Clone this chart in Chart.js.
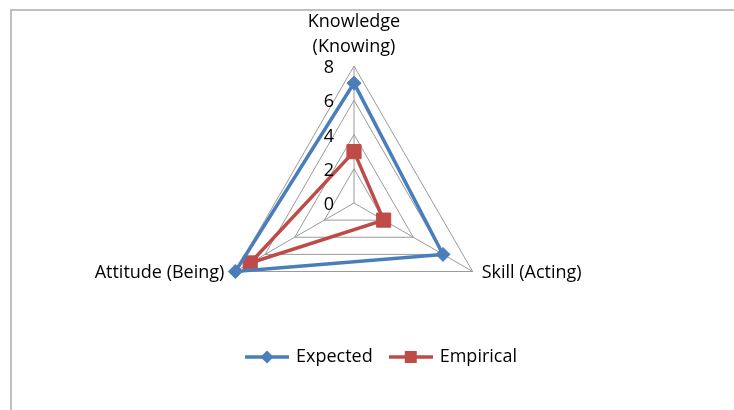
<!DOCTYPE html>
<html>
<head>
<meta charset="utf-8">
<title>Expected vs Empirical</title>
<script src="https://cdn.jsdelivr.net/npm/chart.js@4.4.1/dist/chart.umd.min.js"></script>
<style>
	html, body { margin: 0; padding: 0; background: #fff; }
	#wrap { position: relative; width: 734px; height: 410px; overflow: hidden; }
	#frame {
		position: absolute; left: 10px; top: 9px; right: 0; bottom: 0;
		border-top: 2px solid #c0c0c0; border-left: 2px solid #c0c0c0;
		pointer-events: none;
	}
</style>
</head>
<body>
<div id="wrap">
	<canvas id="radar" width="734" height="410"></canvas>
	<div id="frame"></div>
</div>
<script>
// --- data ---
const axisLabels = [['Knowledge', '(Knowing)'], 'Skill (Acting)', 'Attitude (Being)'];
const expected = [7, 6, 8];
const empirical = [3, 2, 7];
const tickValues = [0, 2, 4, 6, 8];

const BLUE = '#4a7ebb';
const RED = '#be4b48';
const FONT = '"Open Sans", "Noto Sans", sans-serif';

// small line + marker images for the legend
function legendMarker(color, shape) {
	const c = document.createElement('canvas');
	c.width = 44;
	c.height = 16;
	const g = c.getContext('2d');
	g.strokeStyle = color;
	g.lineWidth = 3.5;
	g.beginPath();
	g.moveTo(0, 8);
	g.lineTo(44, 8);
	g.stroke();
	g.fillStyle = color;
	g.beginPath();
	if (shape === 'diamond') {
		g.moveTo(22, 1.5); g.lineTo(28.5, 8); g.lineTo(22, 14.5); g.lineTo(15.5, 8);
		g.closePath();
	} else {
		g.rect(16, 2, 12, 12);
	}
	g.fill();
	return c;
}
const markers = [legendMarker(BLUE, 'diamond'), legendMarker(RED, 'square')];

// tick numbers sit left of the vertical axis, axis titles outside the vertices
const axisText = {
	id: 'axisText',
	afterDraw(chart) {
		const s = chart.scales.r;
		const ctx = chart.ctx;
		ctx.save();
		ctx.font = '18px ' + FONT;
		ctx.fillStyle = '#000';
		ctx.textAlign = 'right';
		ctx.textBaseline = 'middle';
		tickValues.forEach(v => {
			const p = s.getPointPositionForValue(0, v);
			ctx.fillText(String(v), p.x - 20, p.y + 2);
		});
		axisLabels.forEach((lbl, i) => {
			const p = s.getPointPosition(i, s.drawingArea);
			const lines = Array.isArray(lbl) ? lbl : [lbl];
			if (i === 0) {
				ctx.textAlign = 'center';
				lines.forEach((t, k) => {
					ctx.fillText(t, p.x, p.y - 19 - (lines.length - 1 - k) * 25);
				});
			} else {
				ctx.textAlign = i === 1 ? 'left' : 'right';
				ctx.fillText(lines[0], p.x + (i === 1 ? 9 : -11), p.y + 1);
			}
		});
		ctx.restore();
	}
};

new Chart(document.getElementById('radar'), {
	type: 'radar',
	data: {
		labels: axisLabels,
		datasets: [
			{
				label: 'Expected',
				data: expected,
				borderColor: BLUE,
				backgroundColor: BLUE,
				borderWidth: 3.5,
				fill: false,
				pointStyle: 'rectRot',
				pointRadius: 7,
				pointHoverRadius: 7,
				pointBackgroundColor: BLUE,
				pointBorderColor: BLUE,
				pointBorderWidth: 1
			},
			{
				label: 'Empirical',
				data: empirical,
				borderColor: RED,
				backgroundColor: RED,
				borderWidth: 3.5,
				fill: false,
				pointStyle: 'rect',
				pointRadius: 10,
				pointHoverRadius: 10,
				pointBackgroundColor: RED,
				pointBorderColor: RED,
				pointBorderWidth: 1
			}
		]
	},
	options: {
		responsive: false,
		animation: false,
		devicePixelRatio: 1,
		layout: { padding: { left: 30, right: 0, top: 0, bottom: 34 } },
		scales: {
			r: {
				min: 0,
				max: 8,
				ticks: { display: false, stepSize: 2 },
				pointLabels: { display: false },
				grid: { color: '#9a9a9a', lineWidth: 1 },
				angleLines: { color: '#9a9a9a', lineWidth: 1 },
				afterFit(s) {
					s.xCenter = 354;
					s.yCenter = 203;
					s.drawingArea = 137;
				}
			}
		},
		plugins: {
			tooltip: { enabled: false },
			legend: {
				position: 'bottom',
				labels: {
					usePointStyle: true,
					pointStyleWidth: 40,
					padding: 18,
					color: '#000',
					font: { size: 18, family: FONT },
					generateLabels(chart) {
						const items = Chart.defaults.plugins.legend.labels.generateLabels(chart);
						items.forEach((it, i) => { it.pointStyle = markers[i]; });
						return items;
					}
				}
			}
		}
	},
	plugins: [axisText]
});
</script>
</body>
</html>
